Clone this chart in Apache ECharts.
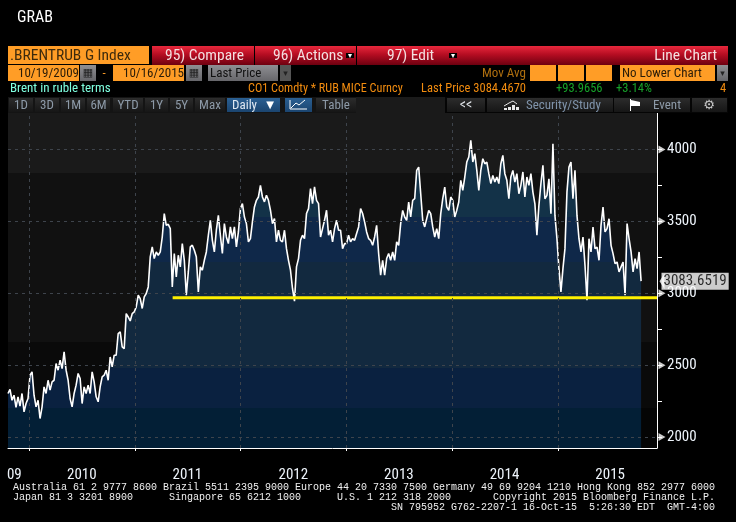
<!DOCTYPE html>
<html><head><meta charset="utf-8">
<style>html,body{margin:0;padding:0;background:#000}#c{width:736px;height:522px}</style>
<script src="https://cdn.jsdelivr.net/npm/echarts@6/dist/echarts.min.js"></script>
</head><body><div id="c"></div>
<script>
const startDate = Date.UTC(2009, 9, 19);
const endDate = Date.UTC(2015, 9, 16);
const axisEnd = Date.UTC(2015, 11, 10);
const prices2010 = [2303,2331,2256,2291,2206,2280,2215,2303,2175,2233,2268,2430,2453,2291,2210,2256,2129,2210,2349,2303,2395,2326,2384,2395,2511,2465,2534,2476,2592,2465,2395,2268,2210,2303,2361,2442,2407,2233,2349,2303,2361,2303,2453,2384,2280,2245,2349,2419,2430,2465,2395,2557,2488,2569,2569,2720,2731,2627,2615,2858,2835,2807,2858,2870,2905];
const prices2011 = [2986,2963,2894,2975,2998,3044,3253,3322,3241,3287,3264,3287,3391,3554,3472,3479,3449,3044,3276,3114,3264,3183,3345,3229,2986,3148,3322,3334,3299,3253,3009,3183,3160,3229,3287,3403,3507,3368,3287,3438,3542,3403,3276,3484,3391,3345,3461,3380,3461,3322,3426,3588,3623,3530,3484,3357,3380,3496,3600,3646,3669,3750,3669,3635,3681];
const prices2012 = [3646,3577,3484,3519,3357,3438,3368,3357,3438,3310,3229,3160,3033,2945,3183,3241,3368,3403,3380,3554,3588,3727,3623,3739,3646,3623,3391,3449,3507,3577,3403,3438,3357,3449,3507,3438,3438,3310,3345,3345,3403,3357,3380,3368,3415,3461,3588,3554,3496,3426,3380,3368,3334,3391,3472,3276,3125,3229,3125,3241,3276,3229,3287,3229,3357];
const prices2013 = [3333,3484,3576,3530,3507,3634,3530,3646,3657,3854,3877,3692,3507,3461,3519,3576,3553,3461,3391,3449,3380,3553,3657,3738,3600,3576,3669,3646,3530,3576,3634,3785,3715,3808,3912,3947,4063,3912,3970,3854,3715,3854,3935,3900,3912,3831,3762,3819,3773,3808,3762,3900,3958,3831,3785,3657,3808,3854,3773,3831,3692,3750,3843,3669,3808];
const prices2014 = [3750,3831,3703,3622,3403,3611,3761,3889,3657,3680,3796,3553,4039,3541,3379,3171,3009,3171,3310,3703,3877,3912,3657,3854,3541,3379,3287,3391,3194,2951,3379,3287,3460,3310,3321,3229,3472,3599,3426,3449,3518,3333,3275,3206,3217,3148,3183,3217,2986,3484,3379,3287,3148,3240,3171,3287,3084];
const yearTicks = ['2010-01-01','2011-01-01','2012-01-01','2013-01-01','2014-01-01','2015-01-01'];
const yearLabelDates = ['2009-11-10','2010-07-01','2011-07-01','2012-07-01','2013-07-01','2014-07-01','2015-07-01'];
const majorLevels = [2000,2500,3000,3500,4000];
const minorLevels = [2000,2250,2500,2750,3000,3250,3500,3750,4000];
const supportLevel = 2969;
const supportStart = '2011-05-11';
const lastLabel = 3083.6519;

const values = [].concat(prices2010,prices2011,prices2012,prices2013,prices2014);
const step = (endDate-startDate)/(values.length-1);
const priceData = values.map((v,i)=>[startDate+i*step,v]);
const ts = s=>new Date(s+'T00:00:00Z').getTime();

const TOP=113,BOT=448;
function bands(stops){
  const out=[];
  stops.forEach(([y0,y1,c])=>{
    out.push({offset:(y0-TOP)/(BOT-TOP),color:c});
    out.push({offset:(y1-TOP)/(BOT-TOP),color:c});
  });
  return {type:'linear',x:0,y:TOP,x2:0,y2:BOT,global:true,colorStops:out};
}
const NARROW='"Liberation Sans Narrow","Roboto Condensed","Liberation Sans",sans-serif';
const MONO='"Liberation Mono","DejaVu Sans Mono",monospace';
const g=[];
const red={type:'linear',x:0,y:0,x2:0,y2:1,colorStops:[{offset:0,color:'#e8283c'},{offset:.45,color:'#b50d22'},{offset:1,color:'#6e0010'}]};
const dark={type:'linear',x:0,y:0,x2:0,y2:1,colorStops:[{offset:0,color:'#2c2c2c'},{offset:1,color:'#161616'}]};
const blue={type:'linear',x:0,y:0,x2:0,y2:1,colorStops:[{offset:0,color:'#2a5f92'},{offset:1,color:'#1b4570'}]};
const grey={type:'linear',x:0,y:0,x2:0,y2:1,colorStops:[{offset:0,color:'#8e8e92'},{offset:1,color:'#66666a'}]};
function R(x,y,w,h,fill){g.push({type:'rect',silent:true,shape:{x,y,width:w,height:h},style:{fill},z:10});}
function T(x,y,text,fill,size,opt){opt=opt||{};g.push({type:'text',silent:true,x,y:y+1,originX:0,originY:0,scaleY:opt.scaleY||1,z:11,style:{text,fill,font:(size)+'px '+(opt.font||NARROW),textAlign:opt.align||'left',textVerticalAlign:'middle'}});}
// title
T(17,17,'GRAB','#ffffff',16);
// top row
R(8,46,141,18,'#ff9d26');
T(10,55.5,'.BRENTRUB G Index','#3d2a0c',15.5);
R(152,46,102,19,red);R(255,46,101,19,red);R(357,46,371,19,red);
T(165,55.5,'95) Compare','#f4dfe0',15.5);
T(273,55.5,'96) Actions','#f4dfe0',15.5);
T(387,55.5,'97) Edit','#f4dfe0',15.5);
R(346,53,8,5,'#000');T(350,55,'▾','#fff',8,{align:'center',font:'"DejaVu Sans"'});
R(449,53,8,5,'#000');T(453,55,'▾','#fff',8,{align:'center',font:'"DejaVu Sans"'});
T(717,55.5,'Line Chart','#f4dfe0',15.5,{align:'right'});
// second row
R(8,65,71,16,'#ff9d26');T(18,72.5,'10/19/2009','#2a1c08',13);
R(80,65,16,16,grey);T(88,72.5,'▦','#222',11,{align:'center',font:'"DejaVu Sans"'});
T(104,72.5,'-','#ff9d26',13,{align:'center'});
R(113,65,71,16,'#ff9d26');T(123,72.5,'10/16/2015','#2a1c08',13);
R(186,65,16,16,grey);T(194,72.5,'▦','#222',11,{align:'center',font:'"DejaVu Sans"'});
R(208,65,70,16,grey);T(210,72.5,'Last Price','#111',13);
R(280,65,11,16,'#555');T(285.5,72.5,'▾','#222',9,{align:'center',font:'"DejaVu Sans"'});
T(482,72.5,'Mov Avg','#b0700f',13);
R(530,65,26,16,'#ff9d26');R(558,65,26,16,'#ff9d26');R(586,65,26,16,'#ff9d26');
R(620,65,95,16,'#ff9d26');T(622,72.5,'No Lower Chart','#2a1c08',13);
R(717,65,11,16,grey);T(722.5,72.5,'▾','#222',9,{align:'center',font:'"DejaVu Sans"'});
// info row
T(10,87.5,'Brent in ruble terms','#7fffe0',13);
T(248,87.5,'CO1 Comdty * RUB MICE Curncy','#f28c0f',12.2);
T(421,87.5,'Last Price 3084.4670','#f28c0f',12.5);
T(556,87.5,'+93.9656','#16a32a',12.5);
T(616,87.5,'+3.14%','#16a32a',12.5);
T(720,87.5,'4','#f28c0f',12.5);
// button row
R(8,97,720,16,'#141414');R(356,97,91,16,'#1a1a1a');R(445,97,283,16,'#050505');
[[9,24,'1D'],[35,24,'3D'],[61,24,'1M'],[87,23,'6M'],[113,30,'YTD'],[145,23,'1Y'],[170,23,'5Y'],[195,30,'Max']].forEach(([x,w,t])=>{
  R(x,98,w,14,dark);T(x+w/2,104.5,t,'#8d9aa8',13,{align:'center'});
});
R(227,98,53,14,blue);T(232,104.5,'Daily','#dfe8f2',13);T(270,104.5,'▼','#fff',10,{align:'center',font:'"DejaVu Sans"'});
R(285,98,27,14,blue);
g.push({type:'polyline',silent:true,z:11,shape:{points:[[291,108],[296,103],[299,105],[305,100]]},style:{stroke:'#fff',fill:null,lineWidth:1}});
g.push({type:'polyline',silent:true,z:11,shape:{points:[[290,100],[290,109],[307,109]]},style:{stroke:'#fff',fill:null,lineWidth:1}});
R(316,98,40,14,dark);T(336,104.5,'Table','#8d9aa8',13,{align:'center'});
R(447,98,38,14,dark);T(466,104.5,'<<','#dfe3e8',14,{align:'center'});
R(487,98,126,14,dark);T(526,104.5,'Security/Study','#7f93aa',13);
[[504,109,2],[508,108,3],[512,106,5],[516,108,3]].forEach(([x,y,h])=>R(x,y-1,3,h,'#e8e8e8'));
g.push({type:'polyline',silent:true,z:11,shape:{points:[[504,106],[509,103],[513,101],[517,104]]},style:{stroke:'#e8e8e8',fill:null,lineWidth:1}});
R(614,98,76,14,dark);T(653,104.5,'Event','#8d9aa8',13);
R(630,99,1,12,'#fff');g.push({type:'polygon',silent:true,z:11,shape:{points:[[631,100],[640,102],[640,106],[631,106]]},style:{fill:'#fff'}});
R(692,98,35,14,dark);T(709,104.5,'⚙','#c8c8c8',13,{align:'center',font:'"DejaVu Sans"'});
// footer
const foot='#f0f0f0';
T(13,486.5,'Australia 61 2 9777 8600 Brazil 5511 2395 9000 Europe 44 20 7330 7500 Germany 49 69 9204 1210 Hong Kong 852 2977 6000',foot,10,{font:MONO});
T(13,496.5,'Japan 81 3 3201 8900      Singapore 65 6212 1000      U.S. 1 212 318 2000       Copyright 2015 Bloomberg Finance L.P.',foot,10,{font:MONO});
T(715,506.5,'SN 795952 G762-2207-1 16-Oct-15  5:26:30 EDT  GMT-4:00',foot,10,{font:MONO,align:'right'});

const chart=echarts.init(document.getElementById('c'),null,{renderer:'canvas'});
const dash={color:'#3e444c',type:[3,4],width:1};
chart.setOption({
  animation:false,backgroundColor:'#000',
  grid:{left:8,right:79,top:TOP,bottom:522-BOT,show:true,borderWidth:0,
    backgroundColor:bands([[113,173,'#1a1a1a'],[173,342,'#111111'],[342,408,'#0a0a0a'],[408,448,'#050505']])},
  xAxis:{type:'value',min:startDate,max:axisEnd,scale:true,
    axisLine:{show:true,lineStyle:{color:'#fff',width:1}},
    axisTick:{show:true,length:3,lineStyle:{color:'#fff'},customValues:yearTicks.map(ts)},
    axisLabel:{show:true,customValues:yearLabelDates.map(ts),margin:20,color:'#eef4fb',fontSize:15,fontFamily:NARROW,
      formatter:v=>{const y=new Date(v).getUTCFullYear();return y===2009?'09':String(y);}},
    splitLine:{show:false}},
  yAxis:{type:'value',position:'right',min:1924,max:4253,
    axisLine:{show:true,lineStyle:{color:'#fff',width:1}},
    axisTick:{show:true,inside:false,length:5,lineStyle:{color:'#fff'},customValues:minorLevels},
    axisLabel:{show:true,customValues:majorLevels,margin:10,color:'#eef4fb',fontSize:15,fontFamily:NARROW,
      padding:[2,0,0,0],formatter:v=>String(v)},
    splitLine:{show:false}},
  series:[
    {name:'area',type:'line',z:1,data:priceData,symbol:'none',silent:true,lineStyle:{width:0},
      areaStyle:{origin:'start',opacity:1,color:bands([[113,217,'#133248'],[217,262,'#0f2849'],[262,368,'#12293f'],[368,408,'#0a2140'],[408,448,'#031f36']])}},
    {name:'guides',type:'line',z:2,data:[],silent:true,
      markLine:{silent:true,symbol:'none',label:{show:false},lineStyle:dash,animation:false,
        data:majorLevels.map(v=>({yAxis:v})).concat(yearTicks.map(d=>({xAxis:ts(d)})))}},
    {name:'price',type:'line',z:3,data:priceData,symbol:'none',silent:true,lineStyle:{color:'#fff',width:1.6}},
    {name:'support',type:'line',z:4,data:[[ts(supportStart),supportLevel],[axisEnd,supportLevel]],symbol:'none',silent:true,
      lineStyle:{color:'#fff000',width:3}},
    {name:'ticks',type:'scatter',z:5,clip:false,silent:true,data:majorLevels.map(v=>[axisEnd,v]),
      symbol:'triangle',symbolSize:[8,7],symbolRotate:-90,symbolOffset:[5,0],itemStyle:{color:'#fff'}},
    {name:'last',type:'scatter',z:6,clip:false,silent:true,data:[[axisEnd,lastLabel]],
      symbol:'triangle',symbolSize:[16,5],symbolRotate:90,symbolOffset:[5,0],itemStyle:{color:'#fff'},
      label:{show:true,position:'right',distance:0,offset:[-3,0],backgroundColor:'#fff',color:'#000',fontSize:15,fontFamily:NARROW,
        padding:[2,2,0,2],formatter:p=>p.value[1].toFixed(4)}}
  ],
  graphic:{elements:g}
});
</script></body></html>
